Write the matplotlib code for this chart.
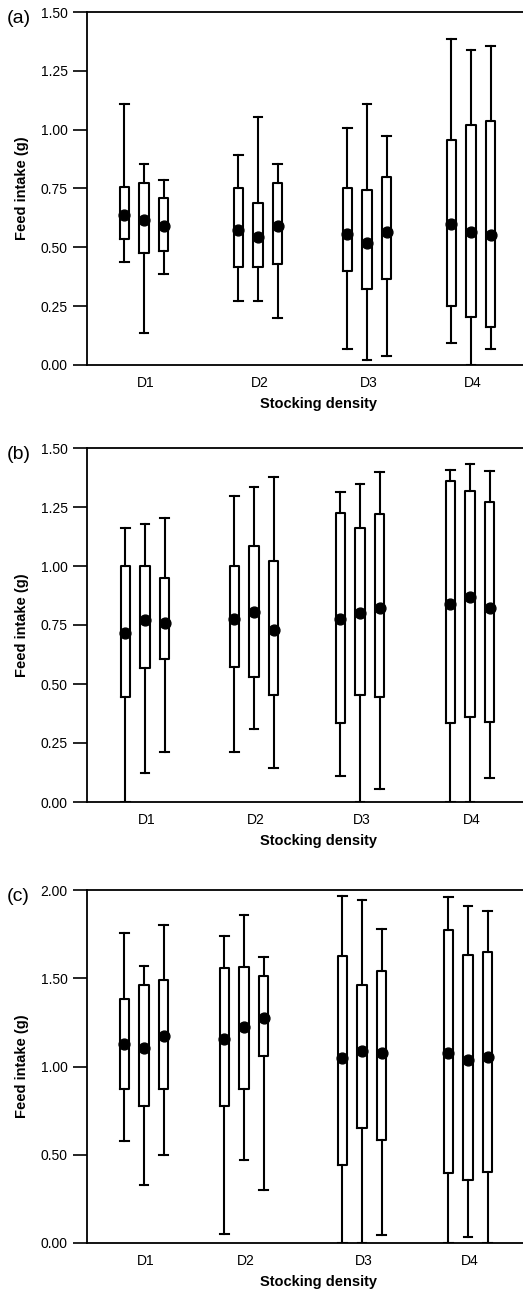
import matplotlib
matplotlib.use("Agg")
import matplotlib.pyplot as plt

plt.rcParams['font.family'] = ['Liberation Sans', 'DejaVu Sans']

groups = ['D1', 'D2', 'D3', 'D4']

# panel (a) - 3 boxes per density group
a_whishi = [1.107, 0.855, 0.787, 0.893, 1.053, 0.852, 1.005, 1.107, 0.975, 1.387, 1.340, 1.357]
a_q3 = [0.758, 0.775, 0.708, 0.754, 0.688, 0.773, 0.750, 0.744, 0.797, 0.958, 1.020, 1.037]
a_q1 = [0.535, 0.475, 0.483, 0.416, 0.416, 0.430, 0.399, 0.325, 0.365, 0.249, 0.202, 0.160]
a_whislo = [0.436, 0.136, 0.386, 0.273, 0.273, 0.200, 0.068, 0.021, 0.037, 0.095, 0.000, 0.068]
a_mean = [0.638, 0.617, 0.589, 0.575, 0.546, 0.591, 0.556, 0.518, 0.565, 0.600, 0.567, 0.553]

# panel (b)
b_whishi = [1.163, 1.177, 1.205, 1.298, 1.335, 1.376, 1.312, 1.349, 1.397, 1.408, 1.434, 1.404]
b_q3 = [1.000, 1.000, 0.951, 1.002, 1.084, 1.020, 1.223, 1.160, 1.219, 1.359, 1.316, 1.270]
b_q1 = [0.446, 0.569, 0.604, 0.573, 0.528, 0.454, 0.333, 0.454, 0.443, 0.333, 0.361, 0.337]
b_whislo = [0.000, 0.124, 0.213, 0.213, 0.308, 0.143, 0.111, 0.000, 0.054, 0.000, 0.000, 0.103]
b_mean = [0.714, 0.773, 0.759, 0.777, 0.803, 0.728, 0.777, 0.801, 0.824, 0.841, 0.869, 0.824]

# panel (c)
c_whishi = [1.756, 1.567, 1.802, 1.739, 1.860, 1.618, 1.968, 1.943, 1.781, 1.960, 1.909, 1.879]
c_q3 = [1.382, 1.459, 1.490, 1.556, 1.563, 1.510, 1.628, 1.463, 1.543, 1.771, 1.633, 1.648]
c_q1 = [0.873, 0.779, 0.875, 0.775, 0.873, 1.059, 0.440, 0.652, 0.582, 0.399, 0.355, 0.403]
c_whislo = [0.577, 0.327, 0.497, 0.049, 0.469, 0.299, 0.000, 0.000, 0.043, 0.000, 0.032, 0.000]
c_mean = [1.130, 1.102, 1.174, 1.155, 1.221, 1.272, 1.049, 1.087, 1.074, 1.078, 1.036, 1.051]

a_ticks = [0.0, 0.25, 0.5, 0.75, 1.0, 1.25, 1.5]
c_ticks = [0.0, 0.5, 1.0, 1.5, 2.0]

panels = [
    ('(a)', a_whislo, a_q1, a_q3, a_whishi, a_mean, a_ticks, 1.5),
    ('(b)', b_whislo, b_q1, b_q3, b_whishi, b_mean, a_ticks, 1.5),
    ('(c)', c_whislo, c_q1, c_q3, c_whishi, c_mean, c_ticks, 2.0),
]

W, H = 523, 1293
fig = plt.figure(figsize=(W / 100, H / 100), dpi=100)

# layout (pixel based x axis so group centres follow the original figure)
left_px = 87
ax_rects = [(12, 365), (448, 802), (890, 1243)]  # top, bottom in pixels
centres = [(144, 258, 367, 471), (145, 254, 360, 470), (144, 244, 362, 468)]
offset = 19.6
bw = 9.3
lw = 1.5

for (lab, wlo, q1, q3, whi, mn, ticks, ymax), (top, bot), cx in zip(panels, ax_rects, centres):
    ax = fig.add_axes([left_px / W, 1 - bot / H, 1 - left_px / W, (bot - top) / H])
    stats = []
    pos = []
    for i in range(len(mn)):
        g, k = divmod(i, 3)
        pos.append(cx[g] + (k - 1) * offset)
        stats.append(dict(whislo=wlo[i], q1=q1[i], med=mn[i], q3=q3[i],
                          whishi=whi[i], mean=mn[i], fliers=[]))
    ax.bxp(stats, positions=pos, widths=bw, capwidths=bw * 0.95,
           showmeans=True, showfliers=False,
           boxprops=dict(color='black', linewidth=lw),
           whiskerprops=dict(color='black', linewidth=lw),
           capprops=dict(color='black', linewidth=lw),
           medianprops=dict(linewidth=0),
           meanprops=dict(marker='o', markerfacecolor='black',
                          markeredgecolor='black', markersize=7.8))
    ax.set_xlim(left_px, W)
    ax.set_ylim(0, ymax)
    ax.set_yticks(ticks)
    ax.set_yticklabels(['%.2f' % t for t in ticks])
    ax.set_xticks([c + 2 for c in cx])
    ax.set_xticklabels(groups)
    ax.tick_params(axis='x', length=0, pad=8, labelsize=10)
    ax.tick_params(axis='y', direction='out', length=10, width=1.2, pad=4, labelsize=10)
    for s in ['left', 'top', 'bottom']:
        ax.spines[s].set_linewidth(1.3)
    ax.spines['right'].set_visible(False)
    ax.set_xlabel('Stocking density', fontsize=10.5, fontweight='bold')
    ax.xaxis.set_label_coords(0.53, -0.09)
    ax.set_ylabel('Feed intake (g)', fontsize=10.5, fontweight='bold')
    ax.yaxis.set_label_coords(-0.133, 0.5)
    ax.text(-0.185, 0.983, lab, transform=ax.transAxes, fontsize=14,
            ha='left', va='center')

fig.savefig('out.png', dpi=100)
